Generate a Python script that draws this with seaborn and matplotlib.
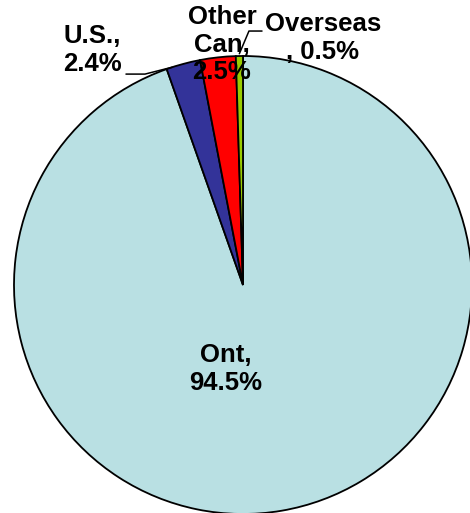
import numpy as np
import matplotlib
matplotlib.use('Agg')
import matplotlib.pyplot as plt
import seaborn as sns

# data
regions = ['Ont', 'U.S.', 'Other\nCan', 'Overseas']
shares = [94.5, 2.4, 2.5, 0.5]
colors = ['#B9E0E3', '#333399', '#FF0000', '#99CC00']

sns.set_style("white")
plt.rcParams['font.family'] = ['Liberation Sans', 'DejaVu Sans']
plt.rcParams['font.weight'] = 'bold'
plt.rcParams['text.color'] = 'black'

fig = plt.figure(figsize=(4.7, 5.13), dpi=100)
# pie circle: centre (243, 285) px, radius 229 px
ax = fig.add_axes([14 / 470, -1 / 513, 458 / 470, 458 / 513])

wedges, _ = ax.pie(shares, colors=sns.color_palette(colors), startangle=90,
                   counterclock=False, radius=1.0,
                   wedgeprops={'edgecolor': 'black', 'linewidth': 1.3})
ax.set_xlim(-1, 1)
ax.set_ylim(-1, 1)
ax.axis('off')

def edge_pt(theta, r=1.0):
    t = np.deg2rad(theta)
    return r * np.cos(t), r * np.sin(t)

# labels
fs = 18.5
kw = dict(ha='center', va='center', fontsize=fs, fontweight='bold',
          linespacing=1.2, color='black')
ax.text(-0.074, -0.367, 'Ont,\n94.5%', **kw)
ax.text(-0.659, 1.026, 'U.S.,\n2.4%', **kw)
ax.text(-0.092, 1.05, 'Other\nCan,\n2.5%', **kw)
ax.text(0.349, 1.079, 'Overseas\n, 0.5%', **kw)

# leader lines
us = wedges[1]
ex, ey = edge_pt(us.theta2 - 1.5)
ax.plot([-0.511, -0.428, ex], [0.921, 0.921, ey], color='black', lw=1.1, clip_on=False)

ov = wedges[3]
ex, ey = edge_pt((ov.theta1 + ov.theta2) / 2, 1.01)
ax.plot([0.083, 0.026, ex], [1.109, 1.109, ey], color='black', lw=1.1, clip_on=False)

plt.savefig('out.png', dpi=100)
